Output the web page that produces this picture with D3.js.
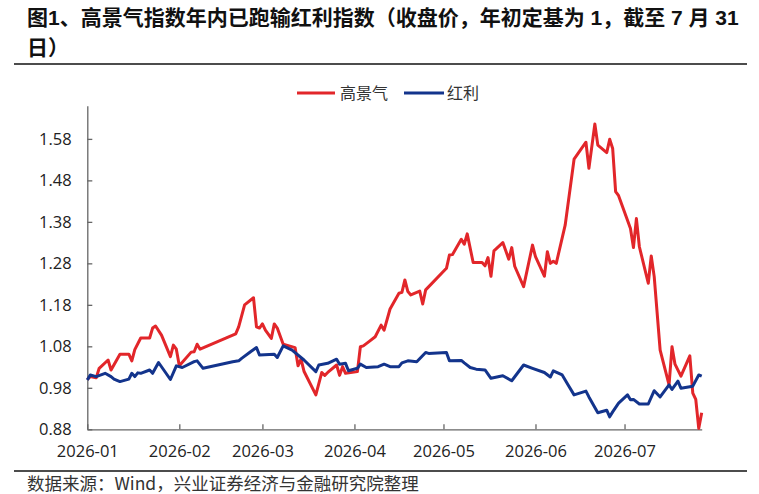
<!DOCTYPE html>
<html>
<head>
  <meta charset="utf-8">
  <script src="https://cdn.jsdelivr.net/npm/d3@7/dist/d3.min.js"></script>
</head>
<style>
  body { margin: 0; background: #fff; }
  svg { display: block; }
  .axis text { font-family: "Open Sans", "Noto Sans", sans-serif; font-size: 16.5px; fill: #222; }
  .axis path, .axis line { stroke: #666; stroke-width: 1.3px; }
</style>
<body>
  <svg id="chart" width="759" height="494"></svg>

  <script>
    // title / footer
    var titleLines = ['图1、高景气指数年内已跑输红利指数（收盘价，年初定基为 1，截至 7 月 31', '日）'];
    var sourceText = '数据来源：Wind，兴业证券经济与金融研究院整理';

    var seriesNames = ['高景气', '红利'];
    var seriesColors = ['#e2262a', '#13348c'];
    var yTicks = [0.88, 0.98, 1.08, 1.18, 1.28, 1.38, 1.48, 1.58];

    // 高景气
    var gaoDates = ['2026-01-01','2026-01-02','2026-01-04','2026-01-05','2026-01-08','2026-01-09','2026-01-12','2026-01-15',
      '2026-01-16','2026-01-17','2026-01-19','2026-01-22','2026-01-23','2026-01-24','2026-01-26','2026-01-29','2026-01-30',
      '2026-01-31','2026-02-01','2026-02-05','2026-02-06','2026-02-07','2026-02-08','2026-02-20','2026-02-21','2026-02-23',
      '2026-02-26','2026-02-27','2026-02-28','2026-03-01','2026-03-02','2026-03-04','2026-03-05','2026-03-06','2026-03-08',
      '2026-03-12','2026-03-13','2026-03-14','2026-03-15','2026-03-19','2026-03-21','2026-03-22','2026-03-23','2026-03-26',
      '2026-03-27','2026-03-28','2026-03-29','2026-04-02','2026-04-03','2026-04-04','2026-04-06','2026-04-08','2026-04-10',
      '2026-04-11','2026-04-13','2026-04-16','2026-04-17','2026-04-18','2026-04-19','2026-04-20','2026-04-23','2026-04-24',
      '2026-04-25','2026-05-02','2026-05-03','2026-05-04','2026-05-07','2026-05-08','2026-05-09','2026-05-11','2026-05-14',
      '2026-05-15','2026-05-16','2026-05-17','2026-05-18','2026-05-21','2026-05-23','2026-05-24','2026-05-25','2026-05-28',
      '2026-05-31','2026-06-01','2026-06-04','2026-06-05','2026-06-06','2026-06-07','2026-06-08','2026-06-11','2026-06-14',
      '2026-06-18','2026-06-19','2026-06-21','2026-06-22','2026-06-25','2026-06-26','2026-06-27','2026-06-28','2026-06-29',
      '2026-07-03','2026-07-04','2026-07-05','2026-07-06','2026-07-09','2026-07-10','2026-07-11','2026-07-13','2026-07-16',
      '2026-07-17','2026-07-18','2026-07-20','2026-07-23','2026-07-24','2026-07-25','2026-07-26','2026-07-27'];
    var gaoValues = [1.000,1.007,1.004,1.027,1.047,1.023,1.061,1.061,
      1.045,1.072,1.100,1.100,1.124,1.129,1.107,1.055,1.083,
      1.073,1.033,1.066,1.067,1.085,1.073,1.110,1.127,1.180,
      1.197,1.127,1.124,1.134,1.119,1.099,1.134,1.124,1.085,
      1.077,1.033,1.049,1.020,0.963,1.017,1.010,1.017,1.035,
      1.010,1.031,1.015,1.019,1.079,1.081,1.092,1.103,1.131,
      1.119,1.170,1.208,1.210,1.240,1.212,1.204,1.213,1.182,
      1.216,1.268,1.300,1.301,1.338,1.326,1.351,1.282,1.282,
      1.274,1.294,1.249,1.310,1.330,1.290,1.318,1.273,1.224,
      1.324,1.296,1.249,1.308,1.280,1.285,1.280,1.372,1.531,
      1.572,1.509,1.616,1.565,1.547,1.579,1.557,1.453,1.443,
      1.364,1.318,1.388,1.320,1.232,1.298,1.248,1.071,0.987,
      1.079,1.037,1.008,1.057,0.967,0.952,0.882,0.920];

    // 红利
    var hongDates = ['2026-01-01','2026-01-02','2026-01-04','2026-01-07','2026-01-09','2026-01-10','2026-01-12','2026-01-15',
      '2026-01-16','2026-01-17','2026-01-18','2026-01-19','2026-01-22','2026-01-23','2026-01-25','2026-01-29','2026-01-31',
      '2026-02-02','2026-02-06','2026-02-07','2026-02-09','2026-02-19','2026-02-21','2026-02-22','2026-02-25','2026-02-27',
      '2026-02-28','2026-03-05','2026-03-06','2026-03-08','2026-03-11','2026-03-15','2026-03-19','2026-03-20','2026-03-23',
      '2026-03-26','2026-03-27','2026-03-29','2026-03-30','2026-04-02','2026-04-03','2026-04-05','2026-04-09','2026-04-11',
      '2026-04-13','2026-04-16','2026-04-17','2026-04-19','2026-04-22','2026-04-25','2026-04-26','2026-05-02','2026-05-03',
      '2026-05-07','2026-05-08','2026-05-10','2026-05-12','2026-05-15','2026-05-17','2026-05-21','2026-05-24','2026-05-28',
      '2026-05-31','2026-06-04','2026-06-06','2026-06-07','2026-06-10','2026-06-12','2026-06-14','2026-06-18','2026-06-19',
      '2026-06-22','2026-06-25','2026-06-26','2026-06-27','2026-06-29','2026-07-02','2026-07-03','2026-07-04','2026-07-06',
      '2026-07-09','2026-07-11','2026-07-13','2026-07-16','2026-07-17','2026-07-19','2026-07-20','2026-07-24','2026-07-26',
      '2026-07-27'];
    var hongValues = [0.999,1.011,1.007,1.015,1.007,1.001,0.995,1.001,
      1.015,1.007,1.016,1.015,1.023,1.015,1.041,1.000,1.033,
      1.029,1.043,1.045,1.027,1.043,1.045,1.051,1.067,1.077,
      1.059,1.061,1.053,1.081,1.071,1.047,1.019,1.035,1.039,
      1.049,1.037,1.039,1.021,1.027,1.037,1.029,1.031,1.037,
      1.031,1.031,1.040,1.045,1.043,1.065,1.063,1.065,1.045,
      1.046,1.040,1.029,1.025,1.023,1.003,1.009,0.997,1.035,
      1.027,1.017,1.006,1.021,1.011,0.987,0.963,0.972,0.958,
      0.920,0.926,0.910,0.922,0.943,0.963,0.951,0.952,0.941,
      0.941,0.973,0.958,0.987,0.976,0.996,0.979,0.984,1.011,
      1.008];

    var parse = d3.timeParse('%Y-%m-%d');
    var series = [
      { name: seriesNames[0], color: seriesColors[0], points: gaoDates.map(function (d, i) { return [parse(d), gaoValues[i]]; }) },
      { name: seriesNames[1], color: seriesColors[1], points: hongDates.map(function (d, i) { return [parse(d), hongValues[i]]; }) }
    ];

    var svg = d3.select('#chart');
    var plotLeft = 87.3, plotRight = 701.7, plotTop = 105.7, plotBottom = 429.3;

    // title
    svg.selectAll('.title')
      .data(titleLines)
      .enter()
      .append('text')
      .attr('class', 'title')
      .attr('x', 27)
      .attr('y', function (d, i) { return 25 + i * 30; })
      .attr('font-family', '"Liberation Sans", "Noto Sans CJK SC", sans-serif')
      .attr('font-weight', 'bold')
      .attr('font-size', '21px')
      .attr('fill', '#111')
      .text(function (d) { return d; });

    svg.append('line').attr('x1', 14).attr('x2', 747).attr('y1', 64).attr('y2', 64)
      .attr('stroke', '#111').attr('stroke-width', 1.5);
    svg.append('line').attr('x1', 14).attr('x2', 747).attr('y1', 471).attr('y2', 471)
      .attr('stroke', '#111').attr('stroke-width', 1.5);

    svg.append('text')
      .attr('x', 27)
      .attr('y', 490)
      .attr('font-family', '"Noto Sans CJK SC", sans-serif')
      .attr('font-size', '17.5px')
      .attr('fill', '#333')
      .text(sourceText);

    // scales
    var x = d3.scaleTime()
      .domain([parse('2026-01-01'), parse('2026-07-27')])
      .range([plotLeft, plotRight]);
    var y = d3.scaleLinear()
      .domain([0.88, 1.66])
      .range([plotBottom, plotTop]);

    svg.append('g')
      .attr('class', 'axis')
      .attr('transform', 'translate(0,' + plotBottom + ')')
      .call(d3.axisBottom(x)
        .ticks(d3.timeMonth.every(1))
        .tickFormat(d3.timeFormat('%Y-%m'))
        .tickSizeInner(-5)
        .tickSizeOuter(0)
        .tickPadding(16));

    svg.append('g')
      .attr('class', 'axis')
      .attr('transform', 'translate(' + plotLeft + ',0)')
      .call(d3.axisLeft(y)
        .tickValues(yTicks)
        .tickFormat(d3.format('.2f'))
        .tickSizeInner(-5)
        .tickSizeOuter(0)
        .tickPadding(15.6));

    // lines
    var line = d3.line()
      .x(function (d) { return x(d[0]); })
      .y(function (d) { return y(d[1]); });

    svg.selectAll('.series')
      .data(series)
      .enter()
      .append('path')
      .attr('class', 'series')
      .attr('d', function (d) { return line(d.points); })
      .attr('fill', 'none')
      .attr('stroke', function (d) { return d.color; })
      .attr('stroke-width', 3)
      .attr('stroke-linejoin', 'round');

    // legend
    var legendX = [297, 404];
    var legend = svg.selectAll('.legend')
      .data(series)
      .enter()
      .append('g')
      .attr('class', 'legend')
      .attr('transform', function (d, i) { return 'translate(' + legendX[i] + ',93)'; });
    legend.append('line')
      .attr('x1', 0).attr('x2', function (d, i) { return i == 0 ? 38 : 40; })
      .attr('y1', 0).attr('y2', 0)
      .attr('stroke', function (d) { return d.color; })
      .attr('stroke-width', 3);
    legend.append('text')
      .attr('x', 43)
      .attr('y', 5.5)
      .attr('font-family', '"Noto Sans CJK SC", sans-serif')
      .attr('font-size', '16px')
      .attr('fill', '#333')
      .text(function (d) { return d.name; });
  </script>
</body>
</html>
